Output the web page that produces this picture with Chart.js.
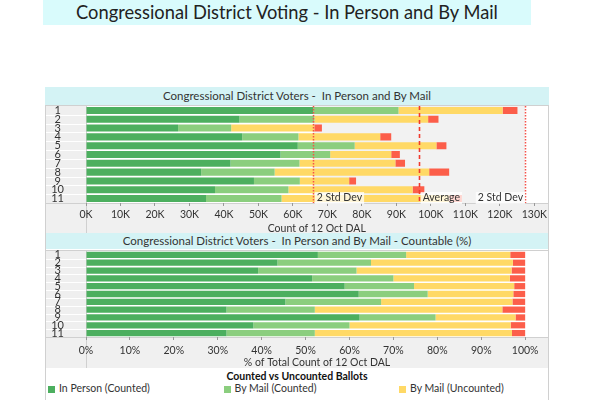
<!DOCTYPE html>
<html lang="en">
<head>
<meta charset="UTF-8">
<title>Congressional District Voting</title>
<script src="https://cdn.jsdelivr.net/npm/chart.js@4.4.1/dist/chart.umd.min.js"></script>
<style>
  body { margin: 0; width: 600px; height: 400px; background: #fff; position: relative; overflow: hidden;
         font-family: Lato, "Noto Sans", sans-serif; color: #333; }
  #title { position: absolute; left: 43px; top: 0; width: 488px; height: 25px; line-height: 25px;
           background: #d9fbfc; text-align: center; font-size: 18.3px; color: #222; }
  .head { position: absolute; left: 45px; width: 504px; background: #d4f3f5; text-align: center;
          font-size: 11.5px; color: #333; white-space: pre; }
  canvas { position: absolute; left: 45px; }
  #frame { position: absolute; left: 45px; top: 105px; width: 502px; height: 295px;
           border-left: 1px solid #d0d0d0; border-right: 1px solid #d0d0d0; pointer-events: none; }
  #legend { position: absolute; left: 45px; top: 368px; width: 504px; height: 32px; font-size: 10.5px; }
  #legend .ttl { position: absolute; left: 0; width: 504px; top: 2px; text-align: center; font-weight: bold; color: #111; }
  #legend .item { position: absolute; top: 14px; white-space: nowrap; color: #333; }
  #legend .sw { display: inline-block; width: 7px; height: 7px; margin-right: 4px; vertical-align: -0.5px; }
</style>
</head>
<body>
<div id="title">Congressional District Voting - In Person and By Mail</div>
<div class="head" style="top:87px;height:18px;line-height:18px;">Congressional District Voters -  In Person and By Mail</div>
<canvas id="c1" width="504" height="128" style="top:105px"></canvas>
<div class="head" style="top:233px;height:16px;line-height:16px;">Congressional District Voters -  In Person and By Mail - Countable (%)</div>
<canvas id="c2" width="504" height="119" style="top:249px"></canvas>
<div id="legend"></div>
<div id="frame"></div>
<script>
// data
const districts = ['1', '2', '3', '4', '5', '6', '7', '8', '9', '10', '11'];
const seriesNames = ['In Person (Counted)', 'By Mail (Counted)', 'By Mail (Uncounted)', 'By Mail (Rejected)'];
const seriesColors = ['#4caf5f', '#8bce7e', '#ffd966', '#fc5e4a'];

// counts per segment
const inPersonCount      = [65900, 44500, 26700, 45300, 61400, 56400, 41900, 33400, 48700, 37400, 34800];
const mailCountedCount   = [24700, 21700, 15400, 16300, 16500, 14400, 20000, 21300, 13300, 21300, 21900];
const mailUncountedCount = [30200, 33000, 24100, 23700, 23700, 17700, 27800, 44800, 14300, 36000, 48600];
const mailRejectedCount  = [4300, 3000, 2200, 3200, 2900, 2500, 2800, 5800, 2000, 3400, 3700];

// percent of total per segment
const inPersonPct      = [52.8, 43.6, 39.2, 51.5, 58.9, 62.1, 45.4, 32.0, 62.3, 38.1, 32.0];
const mailCountedPct   = [20.1, 21.3, 22.4, 18.5, 15.8, 15.7, 21.8, 20.1, 17.3, 21.9, 20.1];
const mailUncountedPct = [23.7, 32.3, 35.3, 26.5, 22.8, 19.5, 29.9, 42.7, 18.2, 36.7, 44.9];
const mailRejectedPct  = [3.4, 2.8, 3.1, 3.5, 2.5, 2.7, 2.9, 5.2, 2.2, 3.3, 3.0];

// axis ticks
const countTicks = [0, 10000, 20000, 30000, 40000, 50000, 60000, 70000, 80000, 90000, 100000, 110000, 120000, 130000];
const pctTicks = [0, 10, 20, 30, 40, 50, 60, 70, 80, 90, 100];

// reference lines on the count chart
const refValues = [65900, 96600, 127300];
const refLabels = ['2 Std Dev', 'Average', '2 Std Dev'];

const FONT = 'Lato, "Noto Sans", sans-serif';
Chart.defaults.font.family = FONT;
Chart.defaults.color = '#333';

function makeSets(lists) {
  return lists.map((d, i) => ({
    label: seriesNames[i], data: d, backgroundColor: seriesColors[i],
    barPercentage: 0.8, categoryPercentage: 1.0
  }));
}

// backgrounds, label column, axis band
const panelBg = {
  id: 'panelBg',
  beforeDraw(chart, args, opts) {
    const { ctx, chartArea: a, width, height, scales: { x, y } } = chart;
    ctx.save();
    ctx.fillStyle = '#fff';
    ctx.fillRect(0, 0, width, height);
    if (opts.band) {
      const x1 = x.getPixelForValue(opts.band[0]), x2 = x.getPixelForValue(opts.band[1]);
      ctx.fillStyle = '#f2f2f2';
      ctx.fillRect(x1, a.top, x2 - x1, a.bottom - a.top);
    }
    ctx.fillStyle = '#efefef';
    ctx.fillRect(0, a.top, a.left, a.bottom - a.top);
    ctx.fillStyle = '#f0f0f0';
    ctx.fillRect(0, a.bottom, width, height - a.bottom);
    ctx.strokeStyle = '#fff';
    ctx.lineWidth = 1;
    for (let i = 0; i < districts.length - 1; i++) {
      const yy = Math.round((y.getPixelForValue(i) + y.getPixelForValue(i + 1)) / 2) + 0.5;
      ctx.beginPath(); ctx.moveTo(0, yy); ctx.lineTo(a.left, yy); ctx.stroke();
    }
    ctx.strokeStyle = '#d0d0d0';
    ctx.beginPath();
    ctx.moveTo(0, a.top - 0.5); ctx.lineTo(width, a.top - 0.5);
    ctx.moveTo(0, a.bottom + 0.5); ctx.lineTo(width, a.bottom + 0.5);
    ctx.moveTo(Math.round(a.left) + 0.5, a.top); ctx.lineTo(Math.round(a.left) + 0.5, height);
    ctx.stroke();
    ctx.restore();
  }
};

// average and std dev lines
const refLinesPlugin = {
  id: 'refLines',
  afterDatasetsDraw(chart) {
    const { ctx, chartArea: a, scales: { x } } = chart;
    ctx.save();
    refValues.forEach((v, i) => {
      const px = Math.round(x.getPixelForValue(v)) + 0.5;
      ctx.beginPath();
      if (i === 1) { ctx.setLineDash([4, 3]); ctx.lineWidth = 1.6; ctx.strokeStyle = '#f03a2e'; }
      else { ctx.setLineDash([1.5, 1.5]); ctx.lineWidth = 1.5; ctx.strokeStyle = '#f5524a'; }
      ctx.moveTo(px, a.top); ctx.lineTo(px, a.bottom);
      ctx.stroke();
    });
    ctx.setLineDash([]);
    ctx.font = '10.5px ' + FONT;
    ctx.textBaseline = 'middle';
    const ty = a.bottom - 5;
    refValues.forEach((v, i) => {
      const px = x.getPixelForValue(v);
      const w = ctx.measureText(refLabels[i]).width;
      const bx = i === 2 ? px - w - 4 : px + 1.5;
      ctx.fillStyle = 'rgba(255,255,255,0.75)';
      ctx.fillRect(bx, ty - 6, w + 4, 12);
      ctx.fillStyle = '#333';
      ctx.textAlign = 'left';
      ctx.fillText(refLabels[i], bx + 2, ty);
    });
    ctx.restore();
  }
};

function yAxis() {
  return {
    stacked: true,
    grid: { display: false },
    border: { display: false },
    afterFit(s) { s.width = 41; s.paddingTop = 0; s.paddingBottom = 0; },
    ticks: { crossAlign: 'center', padding: 14, autoSkip: false, color: '#333', font: { size: 11 } }
  };
}

function xAxis(max, tickList, fmt, title, h, labelPad, titleShift) {
  return {
    stacked: true, min: 0, max: max,
    afterBuildTicks(s) { s.ticks = tickList.map(v => ({ value: v })); },
    afterFit(s) { s.height = h; },
    ticks: { callback: fmt, autoSkip: false, maxRotation: 0, color: '#333', font: { size: 10.5 }, padding: labelPad },
    grid: { drawOnChartArea: false, tickLength: 3, color: '#999' },
    border: { display: false },
    title: { display: true, text: title, color: '#333', font: { size: 10.5 }, padding: { top: 0, bottom: titleShift } }
  };
}

new Chart(document.getElementById('c1'), {
  type: 'bar',
  data: {
    labels: districts,
    datasets: makeSets([inPersonCount, mailCountedCount, mailUncountedCount, mailRejectedCount])
  },
  options: {
    indexAxis: 'y', responsive: false, animation: false,
    layout: { padding: { top: 1, right: 1, left: 0, bottom: 0 } },
    scales: {
      x: xAxis(133800, countTicks, v => (v / 1000) + 'K', 'Count of 12 Oct DAL', 30, 2, -2),
      y: yAxis()
    },
    plugins: { legend: { display: false }, tooltip: { enabled: false }, panelBg: { band: [refValues[0], refValues[2]] } }
  },
  plugins: [panelBg, refLinesPlugin]
});

new Chart(document.getElementById('c2'), {
  type: 'bar',
  data: {
    labels: districts,
    datasets: makeSets([inPersonPct, mailCountedPct, mailUncountedPct, mailRejectedPct])
  },
  options: {
    indexAxis: 'y', responsive: false, animation: false,
    layout: { padding: { top: 2, right: 1, left: 0, bottom: 0 } },
    scales: {
      x: xAxis(105.2, pctTicks, v => v + '%', '% of Total Count of 12 Oct DAL', 31, 4, -1),
      y: yAxis()
    },
    plugins: { legend: { display: false }, tooltip: { enabled: false }, panelBg: {} }
  },
  plugins: [panelBg]
});

// legend (first three series, as shown)
const legend = document.getElementById('legend');
legend.innerHTML = '<div class="ttl">Counted vs Uncounted Ballots</div>' +
  seriesNames.slice(0, 3).map((n, i) =>
    '<div class="item" style="left:' + (3 + i * 175.5) + 'px"><span class="sw" style="background:' +
    seriesColors[i] + '"></span>' + n + '</div>').join('');
</script>
</body>
</html>
